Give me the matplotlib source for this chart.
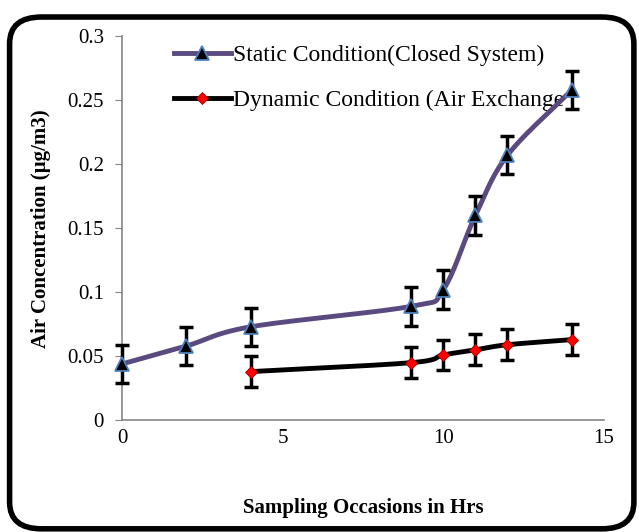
import matplotlib.pyplot as plt
import numpy as np
from matplotlib.patches import FancyBboxPatch

plt.rcParams['font.family'] = ['Liberation Serif', 'DejaVu Serif']

# data
static_x = [0, 2, 4, 9, 10, 11, 12, 14]
static_y = [0.044, 0.058, 0.073, 0.089, 0.102, 0.160, 0.207, 0.258]
static_err = [0.015, 0.015, 0.015, 0.015, 0.015, 0.015, 0.015, 0.015]

dyn_x = [4, 9, 10, 11, 12, 14]
dyn_y = [0.038, 0.045, 0.051, 0.055, 0.059, 0.063]
dyn_err = [0.012, 0.012, 0.012, 0.012, 0.012, 0.012]


def smooth(x, y, n=30):
    # catmull-rom style curve like excel's smoothed line
    x = np.asarray(x, float)
    y = np.asarray(y, float)
    px = np.concatenate([[2 * x[0] - x[1]], x, [2 * x[-1] - x[-2]]])
    py = np.concatenate([[2 * y[0] - y[1]], y, [2 * y[-1] - y[-2]]])
    xs, ys = [], []
    for i in range(1, len(px) - 2):
        t = np.linspace(0, 1, n)
        t2, t3 = t * t, t * t * t
        for p, out in ((px, xs), (py, ys)):
            p0, p1, p2, p3 = p[i - 1], p[i], p[i + 1], p[i + 2]
            out.extend(0.5 * (2 * p1 + (-p0 + p2) * t
                              + (2 * p0 - 5 * p1 + 4 * p2 - p3) * t2
                              + (-p0 + 3 * p1 - 3 * p2 + p3) * t3))
    return xs, ys


fig = plt.figure(figsize=(6.39, 5.32), dpi=100)
ax = fig.add_axes([0.191, 0.21, 0.754, 0.722])

purple = '#5B4A80'
sx, sy = smooth(static_x, static_y)
dx, dy = smooth(dyn_x, dyn_y)
ax.plot(sx, sy, color=purple, lw=3.5, zorder=3, clip_on=False)
ax.plot(dx, dy, color='black', lw=3.5, zorder=3, clip_on=False)
for x, y, e in ((static_x, static_y, static_err), (dyn_x, dyn_y, dyn_err)):
    eb = ax.errorbar(x, y, yerr=e, fmt='none', ecolor='black',
                     elinewidth=2.5, capsize=5, capthick=2.5, zorder=4)
    for art in eb.lines[1] + eb.lines[2]:
        art.set_clip_on(False)
ax.plot(static_x, static_y, ls='none', marker='^', ms=10, mfc='black',
        mec='#4F81BD', mew=1.3, zorder=5, clip_on=False)
ax.plot(dyn_x, dyn_y, ls='none', marker='D', ms=6.5, mfc='red',
        mec='#A00000', mew=0.6, zorder=5, clip_on=False)

# legend handles
ax.plot([], [], color=purple, lw=3.5, marker='^', ms=10, mfc='black',
        mec='#4F81BD', mew=1.3, label='Static Condition(Closed System)')
ax.plot([], [], color='black', lw=3.5, marker='D', ms=6.5, mfc='red',
        mec='#A00000', mew=0.6, label='Dynamic Condition (Air Exchange')
leg = ax.legend(loc='upper left', bbox_to_anchor=(0.088, 1.003), frameon=False,
                fontsize=17, handlelength=2.4, handletextpad=0.1,
                labelspacing=1.0, borderaxespad=0)
leg.set_zorder(1)

ax.set_xlim(0, 15)
ax.set_ylim(0, 0.3)
ax.set_xticks([0, 5, 10, 15])
ax.set_yticks([0, 0.05, 0.1, 0.15, 0.2, 0.25, 0.3])
ax.set_yticklabels(['0', '0.05', '0.1', '0.15', '0.2', '0.25', '0.3'])
ax.tick_params(axis='x', length=0, labelsize=15, pad=6)
ax.tick_params(axis='y', length=5, color='#868686', labelsize=15, pad=8)
for s in ['top', 'right']:
    ax.spines[s].set_visible(False)
for s in ['left', 'bottom']:
    ax.spines[s].set_color('#868686')
    ax.spines[s].set_linewidth(1.2)

ax.set_xlabel('Sampling Occasions in Hrs', fontsize=15, fontweight='bold',
              labelpad=36)
ax.set_ylabel('Air Concentration (µg/m3)', fontsize=15, fontweight='bold',
              labelpad=12)

box = FancyBboxPatch((0.015, 0.006), 0.977, 0.962,
                     boxstyle='round,pad=0,rounding_size=0.05',
                     transform=fig.transFigure, fill=False, ec='black',
                     lw=4, clip_on=False)
fig.patches.append(box)

fig.savefig('out.png', dpi=100)
